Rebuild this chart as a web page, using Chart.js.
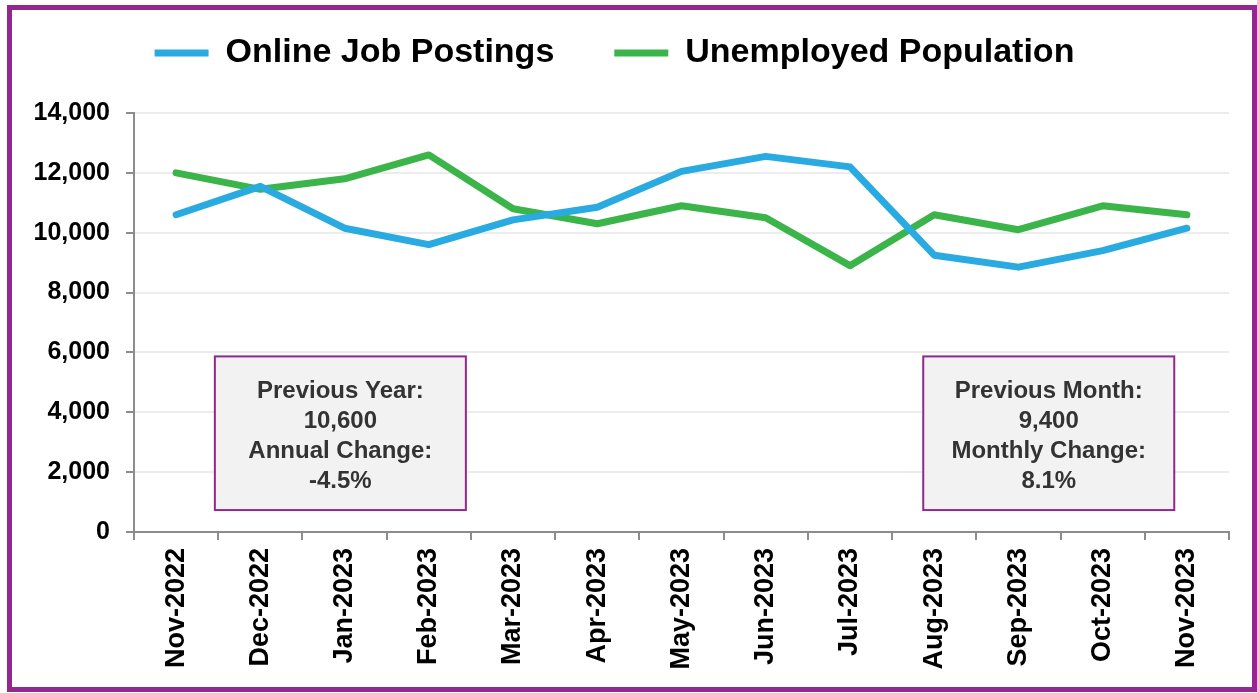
<!DOCTYPE html>
<html>
<head>
<meta charset="utf-8">
<script src="https://cdn.jsdelivr.net/npm/chart.js@4"></script>
<style>
  body { margin: 0; background: #fff; }
  #wrap { position: relative; width: 1257px; height: 693px; }
  #frame { position: absolute; left: 7px; top: 5px; width: 1250px; height: 687px;
           box-sizing: border-box; border: 5px solid #92278f; pointer-events: none; }
</style>
</head>
<body>
<div id="wrap">
  <canvas id="myChart" width="1257" height="693"></canvas>
  <div id="frame"></div>
</div>
<script>
var months = ['Nov-2022', 'Dec-2022', 'Jan-2023', 'Feb-2023', 'Mar-2023', 'Apr-2023', 'May-2023',
              'Jun-2023', 'Jul-2023', 'Aug-2023', 'Sep-2023', 'Oct-2023', 'Nov-2023'];
var jobPostings = [10600, 11550, 10150, 9600, 10430, 10850, 12050, 12550, 12200, 9250, 8850, 9400, 10150];
var unemployed = [12000, 11450, 11800, 12600, 10800, 10300, 10900, 10500, 8900, 10600, 10100, 10900, 10600];
var yTicks = [0, 2000, 4000, 6000, 8000, 10000, 12000, 14000];

var noteYear = ['Previous Year:', '10,600', 'Annual Change:', '-4.5%'];
var noteMonth = ['Previous Month:', '9,400', 'Monthly Change:', '8.1%'];

// grey note boxes, placed in data units
var notes = [
    { lines: noteYear, x0: 0.46, x1: 3.44, y0: 733, y1: 5867 },
    { lines: noteMonth, x0: 8.87, x1: 11.85, y0: 733, y1: 5867 }
];

var notesPlugin = {
    id: 'notes',
    afterDraw: function(chart) {
        var c = chart.ctx, xs = chart.scales.x, ys = chart.scales.y;
        notes.forEach(function(n) {
            var l = xs.getPixelForValue(n.x0), r = xs.getPixelForValue(n.x1);
            var t = ys.getPixelForValue(n.y1), b = ys.getPixelForValue(n.y0);
            c.save();
            c.fillStyle = '#f2f2f2';
            c.fillRect(l, t, r - l, b - t);
            c.strokeStyle = '#93278f';
            c.lineWidth = 2;
            c.strokeRect(l, t, r - l, b - t);
            c.fillStyle = '#333333';
            c.font = 'bold 24px "Liberation Sans"';
            c.textAlign = 'center';
            c.textBaseline = 'middle';
            var cx = (l + r) / 2, cy = (t + b) / 2 + 3;
            n.lines.forEach(function(s, i) {
                c.fillText(s, cx, cy + (i - 1.5) * 30);
            });
            c.restore();
        });
    }
};

// room between legend and plot
var legendGap = {
    id: 'legendGap',
    beforeInit: function(chart) {
        var fit = chart.legend.fit;
        chart.legend.fit = function() {
            fit.bind(chart.legend)();
            this.height = 137;
        };
    }
};

var ctx = document.getElementById('myChart').getContext('2d');
var myChart = new Chart(ctx, {
    type: 'line',
    data: {
        labels: months,
        datasets: [{
            label: 'Online Job Postings',
            data: jobPostings,
            borderColor: '#29abe2',
            backgroundColor: '#29abe2',
            borderWidth: 7,
            borderCapStyle: 'round',
            borderJoinStyle: 'round',
            pointRadius: 0,
            pointStyle: 'line',
            tension: 0
        },
        {
            label: 'Unemployed Population',
            data: unemployed,
            borderColor: '#3bb54a',
            backgroundColor: '#3bb54a',
            borderWidth: 7,
            borderCapStyle: 'round',
            borderJoinStyle: 'round',
            pointRadius: 0,
            pointStyle: 'line',
            tension: 0
        }]
    },
    options: {
        responsive: false,
        animation: false,
        layout: { padding: { top: -24, right: 28, bottom: 11, left: 0 } },
        plugins: {
            legend: {
                labels: {
                    usePointStyle: true,
                    pointStyleWidth: 54,
                    boxHeight: 6,
                    padding: 60,
                    color: '#000',
                    font: { family: 'Liberation Sans', size: 34, weight: 'bold' }
                }
            },
            tooltip: { enabled: false }
        },
        scales: {
            x: {
                offset: true,
                grid: { offset: true, drawOnChartArea: false, color: '#8c8c8c', lineWidth: 2, tickLength: 8 },
                border: { color: '#8c8c8c', width: 2 },
                ticks: {
                    color: '#000',
                    font: { family: 'Liberation Sans', size: 27, weight: 'bold' },
                    minRotation: 90, maxRotation: 90, padding: 8
                },
                afterFit: function(s) { s.height = 150; }
            },
            y: {
                min: 0,
                max: 14000,
                afterBuildTicks: function(s) { s.ticks = yTicks.map(function(v) { return { value: v }; }); },
                grid: { color: '#ececec', lineWidth: 2, tickColor: '#8c8c8c', tickLength: 8 },
                border: { color: '#8c8c8c', width: 2 },
                ticks: {
                    color: '#000',
                    font: { family: 'Liberation Sans', size: 25, weight: 'bold' },
                    padding: 16,
                    callback: function(v) { return v.toLocaleString('en-US'); }
                },
                afterFit: function(s) { s.width = 134; }
            }
        }
    },
    plugins: [legendGap, notesPlugin]
});
</script>
</body>
</html>
